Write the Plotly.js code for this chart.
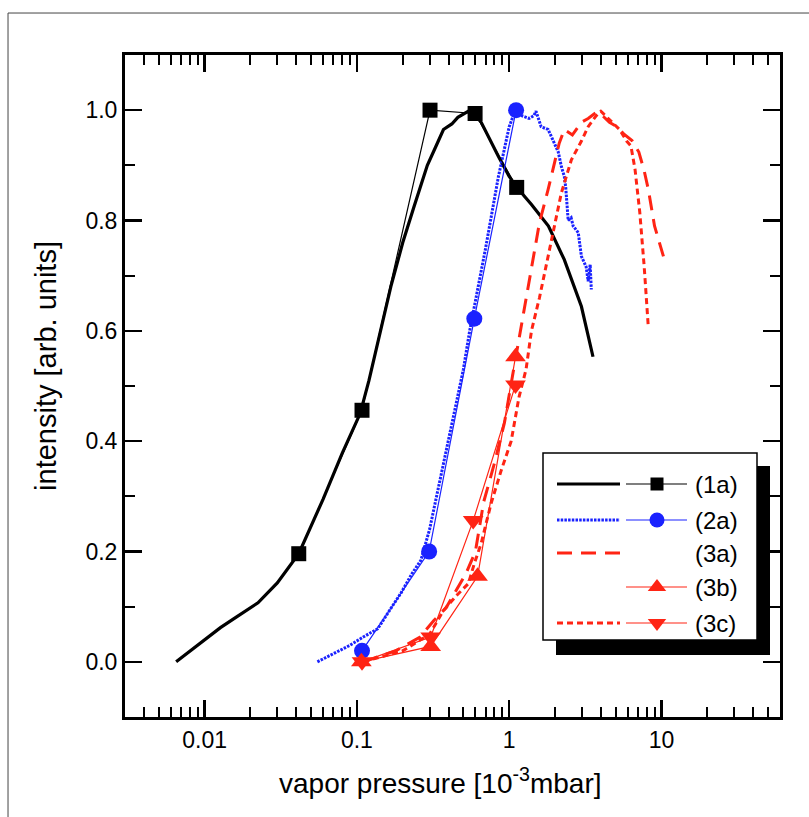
<!DOCTYPE html>
<html>
<head>
<meta charset="utf-8">
<script src="https://cdn.plot.ly/plotly-3.0.1.min.js"></script>
<style>
  html, body { margin: 0; padding: 0; background: #ffffff; }
  #chart { width: 809px; height: 817px; }
</style>
</head>
<body>
<div id="chart"></div>
<script>
// ---------------- data ----------------
// (1a) thick solid curve
const x1aLine = [0.0065, 0.0095, 0.0127, 0.0165, 0.0224, 0.03, 0.0385, 0.0415, 0.06, 0.08, 0.105, 0.12, 0.167, 0.2, 0.237, 0.29, 0.331, 0.37, 0.42, 0.46, 0.537, 0.6, 0.655, 0.75, 0.85, 1.0, 1.11, 1.25, 1.4, 1.81, 2.3, 2.98, 3.55];
const y1aLine = [0.0, 0.035, 0.062, 0.083, 0.107, 0.143, 0.184, 0.196, 0.295, 0.378, 0.45, 0.51, 0.68, 0.76, 0.825, 0.9, 0.935, 0.965, 0.975, 0.987, 0.998, 0.99, 0.978, 0.945, 0.916, 0.88, 0.862, 0.845, 0.829, 0.79, 0.729, 0.644, 0.553];
// (1a) squares
const x1aPts = [0.0415, 0.108, 0.302, 0.597, 1.12];
const y1aPts = [0.196, 0.456, 1.0, 0.994, 0.86];

// (2a) dotted curve
const x2aLine = [0.055, 0.07, 0.09, 0.11, 0.137, 0.17, 0.195, 0.23, 0.263, 0.3, 0.4, 0.5, 0.55, 0.7, 0.85, 1.0, 1.08, 1.22, 1.35, 1.45, 1.5, 1.62, 1.8, 1.95, 2.1, 2.2, 2.3, 2.35, 2.44, 2.55, 2.63, 2.84, 2.98, 3.2, 3.3, 3.4, 3.46];
const y2aLine = [0.0, 0.015, 0.03, 0.045, 0.06, 0.1, 0.125, 0.16, 0.184, 0.24, 0.4, 0.53, 0.6, 0.75, 0.88, 0.97, 0.995, 0.99, 0.985, 0.99, 0.998, 0.97, 0.965, 0.944, 0.924, 0.898, 0.88, 0.86, 0.8, 0.805, 0.79, 0.778, 0.735, 0.716, 0.69, 0.72, 0.675];
// (2a) circles
const x2aPts = [0.108, 0.298, 0.59, 1.11];
const y2aPts = [0.02, 0.2, 0.622, 1.0];

// (3a) long-dashed curve
const x3aLine = [0.11, 0.18, 0.26, 0.32, 0.385, 0.45, 0.52, 0.6, 0.68, 0.8, 0.93, 1.06, 1.2, 1.4, 1.58, 1.8, 1.98, 2.13, 2.3, 2.6, 2.98, 3.3, 3.73, 4.1, 4.55, 5.1, 5.7, 6.4, 7.1, 7.7, 8.2, 9.0, 10.3];
const y3aLine = [0.0, 0.02, 0.045, 0.075, 0.098, 0.13, 0.16, 0.2, 0.29, 0.36, 0.433, 0.524, 0.607, 0.71, 0.796, 0.856, 0.905, 0.94, 0.965, 0.955, 0.978, 0.985, 0.996, 0.99, 0.978, 0.97, 0.956, 0.945, 0.924, 0.89, 0.856, 0.79, 0.735];

// (3b) up-triangles
const x3bPts = [0.107, 0.305, 0.62, 1.1];
const y3bPts = [0.0, 0.028, 0.155, 0.553];

// (3c) short-dashed curve
const x3cLine = [0.11, 0.2, 0.3, 0.37, 0.45, 0.54, 0.59, 0.655, 0.76, 0.886, 1.03, 1.16, 1.29, 1.4, 1.58, 1.89, 2.2, 2.56, 2.98, 3.3, 3.73, 4.0, 4.7, 5.3, 5.9, 6.3, 6.7, 7.2, 7.7, 8.2];
const y3cLine = [0.0, 0.02, 0.05, 0.093, 0.12, 0.142, 0.178, 0.215, 0.287, 0.347, 0.4, 0.48, 0.53, 0.6, 0.66, 0.765, 0.85, 0.91, 0.944, 0.97, 0.99, 0.998, 0.978, 0.965, 0.944, 0.935, 0.893, 0.815, 0.716, 0.605];
// (3c) down-triangles
const x3cPts = [0.108, 0.305, 0.58, 1.1];
const y3cPts = [0.0, 0.045, 0.256, 0.502];

// axis ticks and titles
const xTickVals = [0.01, 0.1, 1, 10];
const xTickText = ['0.01', '0.1', '1', '10'];
const xMinorVals = [0.004, 0.005, 0.006, 0.007, 0.008, 0.009,
  0.02, 0.03, 0.04, 0.05, 0.06, 0.07, 0.08, 0.09,
  0.2, 0.3, 0.4, 0.5, 0.6, 0.7, 0.8, 0.9,
  2, 3, 4, 5, 6, 7, 8, 9, 20, 30, 40, 50];
const yTickVals = [0.0, 0.2, 0.4, 0.6, 0.8, 1.0];
const yTickText = ['0.0', '0.2', '0.4', '0.6', '0.8', '1.0'];
const yMinorVals = [0.1, 0.3, 0.5, 0.7, 0.9];
const xTitle = 'vapor pressure [10<sup>-3</sup>mbar]';
const yTitle = 'intensity [arb. units]';

// legend entries
const legendLabels = ['(1a)', '(2a)', '(3a)', '(3b)', '(3c)'];

// ---------------- styles ----------------
const BLACK = '#000000';
const BLUE = '#1a22ff';
const RED = '#ff2414';
const FONT = '"Liberation Sans", Arial, Helvetica, sans-serif';
const DOT_BLUE = '2.5px,1.2px';
const DASH_LONG = '15px,9px';
const DASH_SHORT = '6px,4px';

const traces = [];
// thick curves
traces.push({x: x1aLine, y: y1aLine, mode: 'lines', line: {color: BLACK, width: 3.2}});
traces.push({x: x2aLine, y: y2aLine, mode: 'lines', line: {color: BLUE, width: 3, dash: DOT_BLUE}});
traces.push({x: x3aLine, y: y3aLine, mode: 'lines', line: {color: RED, width: 3, dash: DASH_LONG}});
traces.push({x: x3cLine, y: y3cLine, mode: 'lines', line: {color: RED, width: 3, dash: DASH_SHORT}});
// thin lines with markers
traces.push({x: x1aPts, y: y1aPts, mode: 'lines+markers', line: {color: BLACK, width: 1.2},
  marker: {symbol: 'square', size: 15, color: BLACK}});
traces.push({x: x2aPts, y: y2aPts, mode: 'lines+markers', line: {color: BLUE, width: 1.2},
  marker: {symbol: 'circle', size: 16, color: BLUE}});
traces.push({x: x3bPts, y: y3bPts, mode: 'lines+markers', line: {color: RED, width: 1.2},
  marker: {symbol: 'triangle-up', size: 18, color: RED}});
traces.push({x: x3cPts, y: y3cPts, mode: 'lines+markers', line: {color: RED, width: 1.2},
  marker: {symbol: 'triangle-down', size: 18, color: RED}});

// ---------------- custom legend (overlay axes in pixel units) ----------------
const rowsY = [484, 520, 553, 587, 623];
const sampleX0 = 557, sampleX1 = 620, segX0 = 626, segX1 = 687, markX = 657, labelX = 693;
const sampleStyles = [
  {color: BLACK, width: 3.2},
  {color: BLUE, width: 3, dash: DOT_BLUE},
  {color: RED, width: 3, dash: DASH_LONG},
  null,
  {color: RED, width: 3, dash: DASH_SHORT}
];
const markerStyles = [
  {symbol: 'square', size: 13, color: BLACK},
  {symbol: 'circle', size: 15, color: BLUE},
  null,
  {symbol: 'triangle-up', size: 16, color: RED},
  {symbol: 'triangle-down', size: 16, color: RED}
];
for (let i = 0; i < legendLabels.length; i++) {
  const yy = rowsY[i];
  if (sampleStyles[i]) {
    traces.push({x: [sampleX0, sampleX1], y: [yy, yy], mode: 'lines', line: sampleStyles[i],
      xaxis: 'x2', yaxis: 'y2', hoverinfo: 'skip'});
  }
  if (markerStyles[i]) {
    const m = markerStyles[i];
    traces.push({x: [segX0, markX, segX1], y: [yy, yy, yy], mode: 'lines', line: {color: m.color, width: 1.2},
      xaxis: 'x2', yaxis: 'y2', hoverinfo: 'skip'});
    traces.push({x: [markX], y: [yy], mode: 'markers', marker: {symbol: m.symbol, size: m.size, color: m.color},
      xaxis: 'x2', yaxis: 'y2', hoverinfo: 'skip'});
  }
}

const annotations = legendLabels.map((t, i) => ({
  x: labelX, y: rowsY[i], xref: 'x2', yref: 'y2', text: t, showarrow: false,
  xanchor: 'left', yanchor: 'middle', font: {family: FONT, size: 24, color: BLACK}
}));
// axis titles placed as annotations (paper coordinates)
annotations.push({x: 0.481, y: -0.097, xref: 'paper', yref: 'paper', text: xTitle, showarrow: false,
  xanchor: 'center', yanchor: 'middle', font: {family: FONT, size: 28, color: BLACK}});
annotations.push({x: -0.121, y: 0.53, xref: 'paper', yref: 'paper', text: yTitle, showarrow: false,
  textangle: -90, xanchor: 'center', yanchor: 'middle', font: {family: FONT, size: 29, color: BLACK}});

const shapes = [
  // legend shadow
  {type: 'rect', xref: 'x2', yref: 'y2', x0: 556, x1: 770, y0: 466, y1: 655,
    fillcolor: BLACK, line: {width: 0}, layer: 'below'},
  // legend box
  {type: 'rect', xref: 'x2', yref: 'y2', x0: 543, x1: 757, y0: 453, y1: 640,
    fillcolor: '#ffffff', line: {color: BLACK, width: 1.5}, layer: 'below'},
  // outer frame (top and left edges)
  {type: 'path', xref: 'paper', yref: 'paper',
    path: 'M -0.1786,-0.2 L -0.1786,1.0634 L 1.2,1.0634', line: {color: '#444444', width: 1}}
];

const layout = {
  width: 809, height: 817,
  margin: {l: 125, r: 29, t: 55, b: 100, pad: 0},
  paper_bgcolor: '#ffffff', plot_bgcolor: '#ffffff',
  showlegend: false,
  font: {family: FONT, size: 23, color: BLACK},
  xaxis: {
    type: 'log', range: [Math.log10(0.003), Math.log10(60)],
    tickmode: 'array', tickvals: xTickVals, ticktext: xTickText,
    ticks: 'inside', ticklen: 17, tickwidth: 2.5, tickcolor: BLACK,
    minor: {tickmode: 'array', tickvals: xMinorVals, ticks: 'inside', ticklen: 10, tickwidth: 2, tickcolor: BLACK},
    showline: true, linewidth: 3, linecolor: BLACK, mirror: 'ticks',
    showgrid: false, zeroline: false,
    tickfont: {family: FONT, size: 23, color: BLACK}
  },
  yaxis: {
    range: [-0.1, 1.1],
    tickmode: 'array', tickvals: yTickVals, ticktext: yTickText,
    ticks: 'inside', ticklen: 17, tickwidth: 2.5, tickcolor: BLACK,
    minor: {tickmode: 'array', tickvals: yMinorVals, ticks: 'inside', ticklen: 10, tickwidth: 2, tickcolor: BLACK},
    showline: true, linewidth: 3, linecolor: BLACK, mirror: 'ticks',
    showgrid: false, zeroline: false,
    tickfont: {family: FONT, size: 23, color: BLACK}
  },
  xaxis2: {overlaying: 'x', range: [125, 780], visible: false, fixedrange: true},
  yaxis2: {overlaying: 'y', range: [717, 55], visible: false, fixedrange: true},
  shapes: shapes,
  annotations: annotations
};

Plotly.newPlot('chart', traces, layout, {staticPlot: true, displayModeBar: false});
</script>
</body>
</html>
